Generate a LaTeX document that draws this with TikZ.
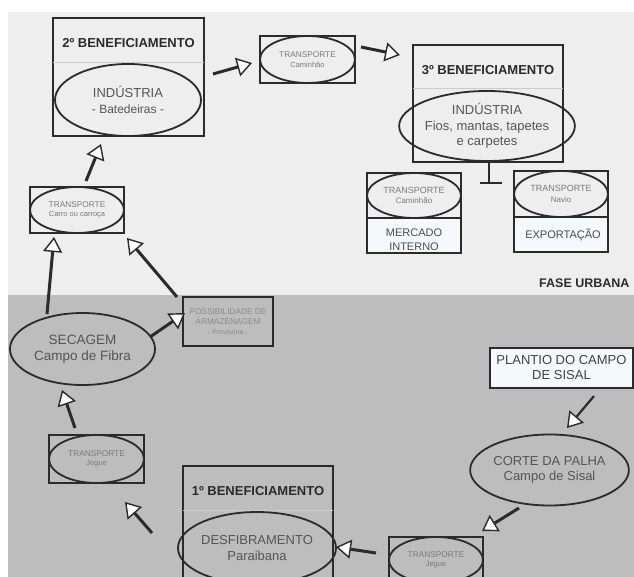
\documentclass[tikz,border=0pt]{standalone}
\usepackage{fontspec}
\setmainfont{Liberation Sans}
\usetikzlibrary{arrows.meta,shapes.geometric}
\definecolor{bgtop}{HTML}{EEEEEE}
\definecolor{bgbot}{HTML}{BDBDBD}
\definecolor{ink}{HTML}{2B2B2B}
\definecolor{txt}{HTML}{555555}
\definecolor{smalltxt}{HTML}{7A7A7A}
\definecolor{posstxt}{HTML}{8A8A8A}
\definecolor{paleblue}{HTML}{F4FAFC}
\begin{document}
\begin{tikzpicture}[x=1pt,y=-1pt,
  box/.style={draw=ink, line width=1.3pt, rectangle, inner sep=0pt},
  ell/.style={draw=ink, line width=1.8pt, ellipse, inner sep=0pt, align=center, text=txt, font=\fontsize{13}{15.5}\selectfont},
  tell/.style={draw=ink, line width=1.8pt, ellipse, inner sep=0pt, align=center, text=smalltxt, font=\fontsize{8.3}{9.5}\selectfont},
  titletext/.style={font=\bfseries\fontsize{13}{15}\selectfont, text=ink},
  labeltext/.style={align=center, text=ink!85, font=\fontsize{11}{14}\selectfont},
  flow/.style={draw=ink, line width=3pt, -{Triangle[fill=white, length=15pt, width=19pt, line width=1.4pt]}},
  thinflow/.style={draw=ink, line width=2.2pt, -{Triangle[fill=white, length=15pt, width=19pt, line width=1.4pt]}},
  divider/.style={draw=black!20, line width=0.8pt}]
\useasboundingbox (0,0) rectangle (634,577);
\clip (0,0) rectangle (634,577);
% backgrounds
\fill[white] (0,0) rectangle (634,577);
\fill[bgtop] (8,12) rectangle (634,295);
\fill[bgbot] (8,295) rectangle (634,577);

% ---------- 2º beneficiamento
\node[box, minimum width=151pt, minimum height=118pt] (b2) at (128.5,77) {};
\draw[divider] (53,62) -- (204,62);
\node[titletext] (b2t) at (128.5,43) {2º BENEFICIAMENTO};
\node[ell, minimum width=146pt, minimum height=72pt] (e2) at (128,100) {INDÚSTRIA\\{\fontsize{12}{14}\selectfont - Batedeiras -}};

% ---------- transporte caminhão (top)
\node[box, minimum width=95pt, minimum height=47pt] (bt1) at (307.5,59.5) {};
\node[tell, minimum width=95pt, minimum height=47pt] (t1) at (307.5,59.5) {TRANSPORTE\\{\fontsize{7.5}{9}\selectfont Caminhão}};

% ---------- 3º beneficiamento
\node[box, minimum width=150pt, minimum height=117pt] (b3) at (488,103.5) {};
\draw[divider] (413,88) -- (563,88);
\node[titletext] (b3t) at (488,70) {3º BENEFICIAMENTO};
\node[ell, minimum width=146pt, minimum height=70pt] (e3) at (487,126) {INDÚSTRIA\\Fios, mantas, tapetes\\e carpetes};

% ---------- mercado interno
\fill[paleblue] (367,218) rectangle (461,253);
\node[box, minimum width=94pt, minimum height=80pt] (bmi) at (414,213) {};
\draw[ink, line width=1.3pt] (367,218) -- (461,218);
\node[tell, minimum width=94pt, minimum height=45pt, font=\fontsize{9}{10.5}\selectfont] (tmi) at (414,195.5) {TRANSPORTE\\{\fontsize{8}{9}\selectfont Caminhão}};
\node[labeltext] (mi) at (414,240) {MERCADO\\INTERNO};

% ---------- exportação
\fill[paleblue] (514,217) rectangle (608,252);
\node[box, minimum width=94pt, minimum height=81pt] (bex) at (561,211.5) {};
\draw[ink, line width=1.3pt] (514,217) -- (608,217);
\node[tell, minimum width=94pt, minimum height=46pt, font=\fontsize{9}{10.5}\selectfont] (tex) at (561,194) {TRANSPORTE\\{\fontsize{8}{9}\selectfont Navio}};
\node[labeltext] (ex) at (563,234.5) {EXPORTAÇÃO};

% T connector
\coordinate (tt) at (489,162);
\coordinate (tb) at (489,183);
\coordinate (tl) at (480,183);
\coordinate (tr) at (502,183);
\draw[ink, line width=1.3pt] (tt) -- (tb);
\draw[ink, line width=1.3pt] (tl) -- (tr);

% FASE URBANA
\node[anchor=east, font=\bfseries\fontsize{12.5}{14}\selectfont, text=ink] (fase) at (633,283) {FASE URBANA};

% ---------- transporte carro
\node[box, minimum width=94pt, minimum height=46pt] (bt2) at (77,210) {};
\node[tell, minimum width=94pt, minimum height=46pt] (t2) at (77,210) {TRANSPORTE\\{\fontsize{7.5}{9}\selectfont Carro ou carroça}};

% ---------- secagem
\node[ell, minimum width=145pt, minimum height=72pt, font=\fontsize{13.5}{15.5}\selectfont] (sec) at (82.5,349) {SECAGEM\\Campo de Fibra};

% ---------- possibilidade
\node[box, minimum width=90pt, minimum height=49pt, align=center, text=posstxt, font=\fontsize{8.3}{10}\selectfont] (poss) at (228,321.5) {POSSIBILIDADE DE\\ARMAZENAGEM\\{\fontsize{7}{10}\selectfont - Provisória -}};

% ---------- plantio
\node[box, fill=paleblue, line width=1.5pt, minimum width=143pt, minimum height=40pt, align=center, text=ink!90, font=\fontsize{13}{15}\selectfont] (plant) at (561.5,368) {PLANTIO DO CAMPO\\DE SISAL};

% ---------- corte
\node[ell, minimum width=147pt, minimum height=71pt] (corte) at (549.5,470) {CORTE DA PALHA\\Campo de Sisal};

% ---------- transporte jegue (bottom)
\node[box, minimum width=94pt, minimum height=46pt] (bt3) at (436,560) {};
\node[tell, minimum width=94pt, minimum height=46pt] (t3) at (436,560) {TRANSPORTE\\{\fontsize{7.5}{9}\selectfont Jegue}};

% ---------- 1º beneficiamento
\node[box, minimum width=150pt, minimum height=119pt] (b1) at (258,525.5) {};
\draw[divider] (183,510) -- (333,510);
\node[titletext] (b1t) at (258,491) {1º BENEFICIAMENTO};
\node[ell, minimum width=146pt, minimum height=72pt] (e1) at (257,548) {DESFIBRAMENTO\\Paraibana};

% ---------- transporte jegue (left)
\node[box, minimum width=95pt, minimum height=48pt] (bt4) at (96.5,459) {};
\node[tell, minimum width=95pt, minimum height=48pt] (t4) at (96.5,459) {TRANSPORTE\\{\fontsize{7.5}{9}\selectfont Jegue}};

% ---------- arrows
\coordinate (a1s) at (213,74);   \coordinate (a1e) at (252,63);
\coordinate (a2s) at (361,47);   \coordinate (a2e) at (400,55);
\coordinate (a3s) at (86,181);   \coordinate (a3e) at (101,144);
\coordinate (a4s) at (47,314);   \coordinate (a4e) at (54,237);
\coordinate (a5s) at (177,297);  \coordinate (a5e) at (127,238);
\coordinate (a6s) at (150,337);  \coordinate (a6e) at (185,313);
\coordinate (a7s) at (75,428);   \coordinate (a7e) at (62,390);
\coordinate (a8s) at (152,533);  \coordinate (a8e) at (125,502);
\coordinate (a9s) at (376,553);  \coordinate (a9e) at (336,547);
\coordinate (a10s) at (519,508); \coordinate (a10e) at (482,531);
\coordinate (a11s) at (594,396); \coordinate (a11e) at (567,428);
\draw[flow] (a1s) -- (a1e);
\draw[flow] (a2s) -- (a2e);
\draw[flow] (a3s) -- (a3e);
\draw[flow] (a4s) -- (a4e);
\draw[flow] (a5s) -- (a5e);
\draw[flow] (a6s) -- (a6e);
\draw[flow] (a7s) -- (a7e);
\draw[flow] (a8s) -- (a8e);
\draw[flow] (a9s) -- (a9e);
\draw[flow] (a10s) -- (a10e);
\draw[thinflow] (a11s) -- (a11e);
\end{tikzpicture}
\end{document}
